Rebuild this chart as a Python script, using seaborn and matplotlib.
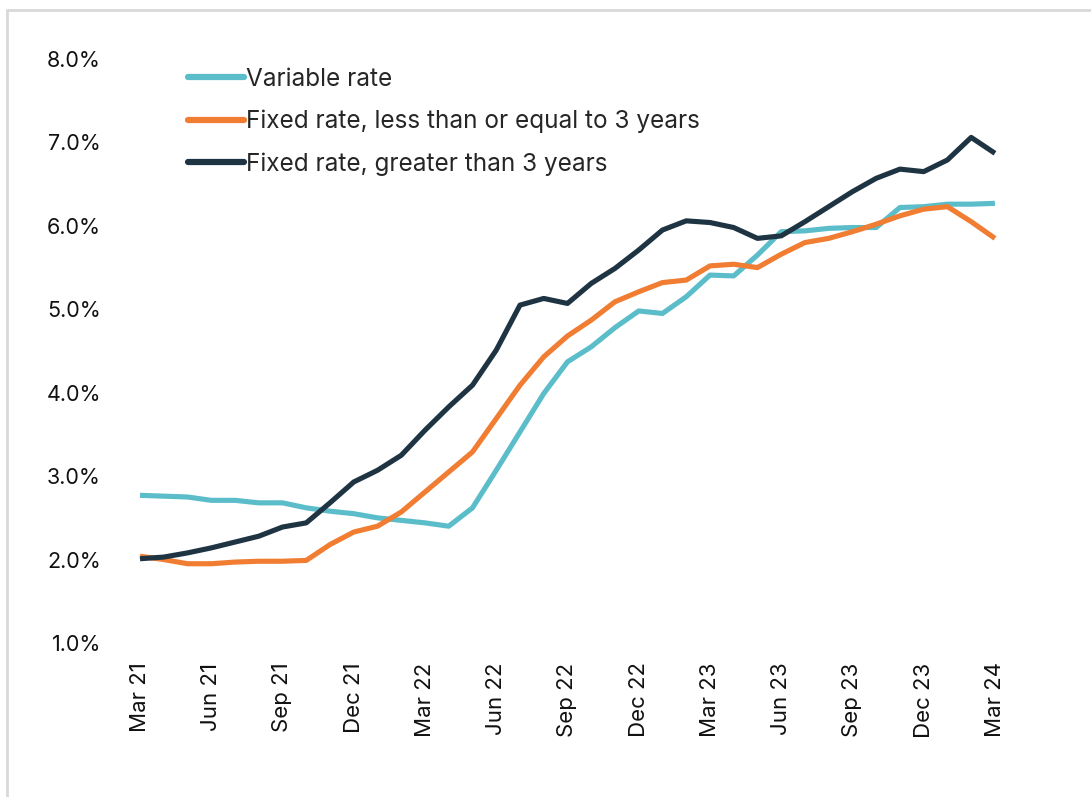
import matplotlib
matplotlib.use("Agg")
import matplotlib.pyplot as plt
from matplotlib.lines import Line2D
import numpy as np
import pandas as pd
import seaborn as sns

# Monthly average interest rates on new housing loans, Mar 2021 - Mar 2024 (%)
months = pd.period_range("2021-03", "2024-03", freq="M")

variable_rate = [2.77, 2.76, 2.75, 2.71, 2.71, 2.68, 2.68, 2.62, 2.58, 2.55,
                 2.50, 2.47, 2.44, 2.40, 2.62, 3.07, 3.53, 3.99, 4.37, 4.55,
                 4.78, 4.98, 4.95, 5.15, 5.41, 5.40, 5.65, 5.93, 5.94, 5.97,
                 5.98, 5.98, 6.22, 6.23, 6.26, 6.26, 6.27]

fixed_le_3y = [2.04, 2.00, 1.95, 1.95, 1.97, 1.98, 1.98, 1.99, 2.18, 2.33,
               2.40, 2.57, 2.81, 3.05, 3.29, 3.69, 4.09, 4.43, 4.68, 4.87,
               5.09, 5.21, 5.32, 5.35, 5.52, 5.54, 5.50, 5.66, 5.80, 5.85,
               5.93, 6.02, 6.12, 6.20, 6.23, 6.05, 5.85]

fixed_gt_3y = [2.01, 2.03, 2.08, 2.14, 2.21, 2.28, 2.39, 2.44, 2.68, 2.93,
               3.07, 3.25, 3.55, 3.83, 4.09, 4.51, 5.05, 5.13, 5.07, 5.31,
               5.49, 5.71, 5.95, 6.06, 6.04, 5.98, 5.85, 5.88, 6.05, 6.23,
               6.41, 6.57, 6.68, 6.65, 6.79, 7.06, 6.87]

series_names = ["Variable rate",
                "Fixed rate, less than or equal to 3 years",
                "Fixed rate, greater than 3 years"]
series_colors = ["#5BBDC9", "#F07D32", "#1F3442"]

month_labels = [m.strftime("%b %y") for m in months]

df = pd.DataFrame({
    "pos": np.tile(np.arange(len(months)), 3),
    "rate": variable_rate + fixed_le_3y + fixed_gt_3y,
    "series": np.repeat(series_names, len(months)),
})

sns.set_theme(style="white")
plt.rcParams["font.family"] = ["Inter", "DejaVu Sans"]

fig = plt.figure(figsize=(10.91, 7.97), dpi=100)
ax = fig.add_axes([126 / 1091, 1 - 643 / 797, 882 / 1091, 584 / 797])

sns.lineplot(data=df, x="pos", y="rate", hue="series",
             hue_order=series_names, palette=series_colors,
             linewidth=3.7, ax=ax, legend=True)
for ln in ax.get_lines():
    ln.set_solid_joinstyle("round")
    ln.set_solid_capstyle("butt")

ax.set_xlim(-0.59, 36.55)
ax.set_ylim(1, 8)
ax.set_yticks(np.arange(1, 9))
ax.set_yticklabels([f"{v:.1f}%" for v in np.arange(1, 9)])
tick_pos = np.arange(0, len(months), 3)
ax.set_xticks(tick_pos)
ax.set_xticklabels([month_labels[i] for i in tick_pos], rotation=90)
ax.tick_params(axis="x", length=0, pad=14, labelsize=16, colors="#111111")
ax.tick_params(axis="y", length=0, pad=18, labelsize=15.5, colors="#111111")
ax.set_xlabel("")
ax.set_ylabel("")
for s in ax.spines.values():
    s.set_visible(False)
ax.grid(False)

handles, labels = ax.get_legend_handles_labels()
for h in handles:
    h.set_linewidth(4.5)
    h.set_solid_capstyle("round")
ax.legend(handles, labels, loc="upper left",
          bbox_to_anchor=(0.059, 1.002), frameon=False,
          fontsize=17.5, handlelength=2.3, handletextpad=0.1,
          labelspacing=0.79, borderaxespad=0)

# light grey frame around the chart area
frame_kw = dict(color="#d9d9d9", linewidth=2, transform=fig.transFigure)
fig.add_artist(Line2D([7 / 1091, 1.01], [1 - 10 / 797, 1 - 10 / 797], **frame_kw))
fig.add_artist(Line2D([7 / 1091, 7 / 1091], [-0.01, 1 - 10 / 797], **frame_kw))

fig.savefig("out.png", dpi=100, facecolor="white")
